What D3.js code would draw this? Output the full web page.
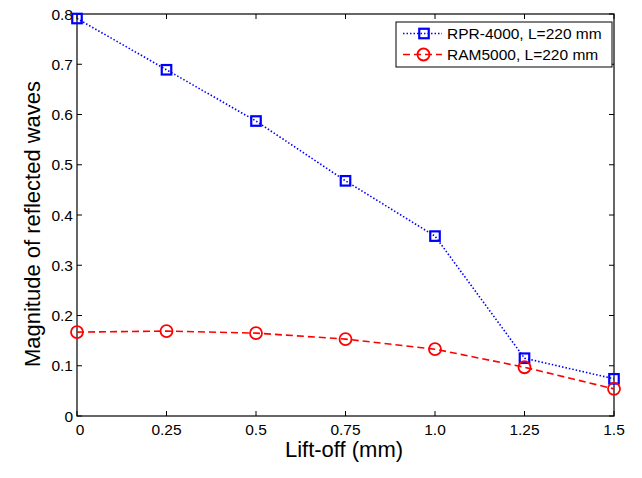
<!DOCTYPE html>
<html><head><meta charset="utf-8">
<script src="https://cdn.jsdelivr.net/npm/d3@7"></script>
<style>body{margin:0;background:#fff}text{font-family:"Liberation Sans",Arial,sans-serif}</style>
</head><body><svg id="c" width="642" height="478"></svg>
<script>
const liftOff = [0, 0.25, 0.5, 0.75, 1.0, 1.25, 1.5];
const rpr4000 = [0.791, 0.689, 0.587, 0.468, 0.358, 0.115, 0.074];
const ram5000 = [0.167, 0.169, 0.165, 0.153, 0.133, 0.097, 0.054];
const xTickLabels = ["0", "0.25", "0.5", "0.75", "1.0", "1.25", "1.5"];
const yTicks = [0, 0.1, 0.2, 0.3, 0.4, 0.5, 0.6, 0.7, 0.8];
const seriesNames = ["RPR-4000, L=220 mm", "RAM5000, L=220 mm"];

const svg = d3.select("#c");
const L = 77, R = 614, T = 14, B = 416;
const x = d3.scaleLinear().domain([0, 1.5]).range([L, R]);
const y = d3.scaleLinear().domain([0, 0.8]).range([B, T]);

svg.append("rect").attr("x", L).attr("y", T).attr("width", R - L).attr("height", B - T)
  .attr("fill", "none").attr("stroke", "#000").attr("stroke-width", 1.2);

const tl = 5;
liftOff.forEach((v, i) => {
  svg.append("line").attr("x1", x(v)).attr("x2", x(v)).attr("y1", B).attr("y2", B - tl).attr("stroke", "#000");
  svg.append("line").attr("x1", x(v)).attr("x2", x(v)).attr("y1", T).attr("y2", T + tl).attr("stroke", "#000");
  svg.append("text").attr("x", x(v) + (i === 0 ? 3 : 0)).attr("y", B + 19).attr("text-anchor", "middle")
    .attr("font-size", 15.5).text(xTickLabels[i]);
});
yTicks.forEach(v => {
  svg.append("line").attr("x1", L).attr("x2", L + tl).attr("y1", y(v)).attr("y2", y(v)).attr("stroke", "#000");
  svg.append("line").attr("x1", R).attr("x2", R - tl).attr("y1", y(v)).attr("y2", y(v)).attr("stroke", "#000");
  svg.append("text").attr("x", L - 4).attr("y", y(v) + 5.5).attr("text-anchor", "end")
    .attr("font-size", 15.5).text(v === 0 ? "0" : d3.format(".1f")(v));
});

svg.append("text").attr("x", 344).attr("y", 457).attr("text-anchor", "middle")
  .attr("font-size", 22).text("Lift-off (mm)");
svg.append("text").attr("transform", `translate(40,224) rotate(-90)`).attr("text-anchor", "middle")
  .attr("font-size", 22).text("Magnitude of reflected waves");

const line = d3.line().x(d => x(d[0])).y(d => y(d[1]));
const d1 = liftOff.map((v, i) => [v, rpr4000[i]]);
const d2 = liftOff.map((v, i) => [v, ram5000[i]]);

svg.append("path").attr("d", line(d1)).attr("fill", "none").attr("stroke", "#0000ff")
  .attr("stroke-width", 1.6).attr("stroke-dasharray", "1.5,2");
svg.append("path").attr("d", line(d2)).attr("fill", "none").attr("stroke", "#ff0000")
  .attr("stroke-width", 1.6).attr("stroke-dasharray", "7,4");

const sq = 9.5;
svg.selectAll(".sq").data(d1).enter().append("rect")
  .attr("x", d => x(d[0]) - sq / 2).attr("y", d => y(d[1]) - sq / 2)
  .attr("width", sq).attr("height", sq).attr("fill", "none").attr("stroke", "#0000ff").attr("stroke-width", 2.2);
svg.selectAll(".ci").data(d2).enter().append("circle")
  .attr("cx", d => x(d[0])).attr("cy", d => y(d[1])).attr("r", 6)
  .attr("fill", "none").attr("stroke", "#ff0000").attr("stroke-width", 1.8);

const lg = svg.append("g");
lg.append("rect").attr("x", 396).attr("y", 22).attr("width", 216).attr("height", 45)
  .attr("fill", "#fff").attr("stroke", "#000").attr("stroke-width", 1);
const ly = [33.5, 54.5];
lg.append("line").attr("x1", 403).attr("x2", 442).attr("y1", ly[0]).attr("y2", ly[0])
  .attr("stroke", "#0000ff").attr("stroke-width", 1.6).attr("stroke-dasharray", "1.5,2");
lg.append("rect").attr("x", 424 - sq / 2).attr("y", ly[0] - sq / 2).attr("width", sq).attr("height", sq)
  .attr("fill", "none").attr("stroke", "#0000ff").attr("stroke-width", 2.2);
lg.append("line").attr("x1", 403).attr("x2", 442).attr("y1", ly[1]).attr("y2", ly[1])
  .attr("stroke", "#ff0000").attr("stroke-width", 1.6).attr("stroke-dasharray", "7,4");
lg.append("circle").attr("cx", 423.5).attr("cy", ly[1]).attr("r", 6)
  .attr("fill", "none").attr("stroke", "#ff0000").attr("stroke-width", 1.8);
seriesNames.forEach((n, i) => {
  lg.append("text").attr("x", 447).attr("y", ly[i] + 5.5).attr("font-size", 15.5).text(n);
});
</script></body></html>
